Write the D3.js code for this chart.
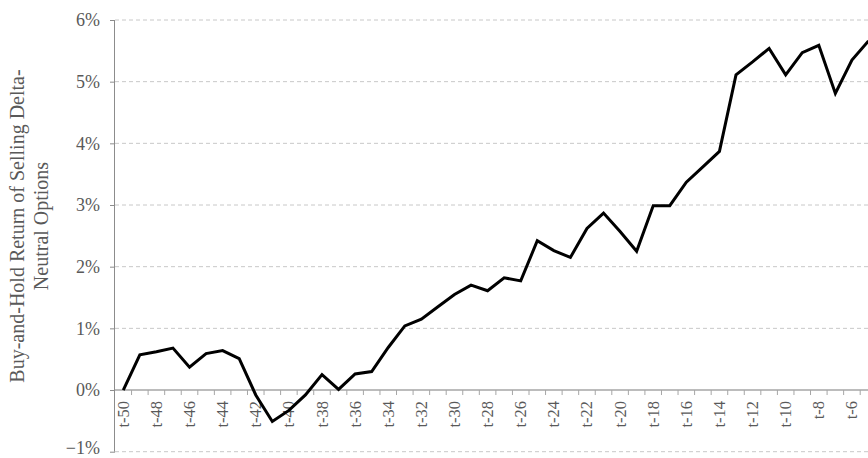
<!DOCTYPE html>
<html>
<head>
<meta charset="utf-8">
<script src="https://cdn.jsdelivr.net/npm/d3@7"></script>
<style>
  html, body { margin: 0; padding: 0; background: #fff; }
  svg { display: block; }
  text { font-family: "Liberation Serif", "DejaVu Serif", serif; fill: #595959; }
</style>
</head>
<body>
<svg id="chart" width="868" height="458"></svg>
<script>
const categories = ["t-50","t-49","t-48","t-47","t-46","t-45","t-44","t-43","t-42","t-41",
  "t-40","t-39","t-38","t-37","t-36","t-35","t-34","t-33","t-32","t-31",
  "t-30","t-29","t-28","t-27","t-26","t-25","t-24","t-23","t-22","t-21",
  "t-20","t-19","t-18","t-17","t-16","t-15","t-14","t-13","t-12","t-11",
  "t-10","t-9","t-8","t-7","t-6","t-5"];
const returns = [0.0000, 0.0057, 0.0062, 0.0068, 0.0037, 0.0059, 0.0064, 0.0051, -0.0008, -0.0051,
  -0.0033, -0.0008, 0.0025, 0.0001, 0.0026, 0.0030, 0.0069, 0.0104, 0.0115, 0.0135,
  0.0155, 0.0170, 0.0161, 0.0182, 0.0177, 0.0242, 0.0226, 0.0215, 0.0262, 0.0287,
  0.0257, 0.0225, 0.0299, 0.0299, 0.0337, 0.0362, 0.0387, 0.0511, 0.0532, 0.0554,
  0.0511, 0.0547, 0.0559, 0.0481, 0.0535, 0.0566];
const yTicks = [-0.01, 0, 0.01, 0.02, 0.03, 0.04, 0.05, 0.06];
const yTitle = ["Buy-and-Hold Return of Selling Delta-", "Neutral Options"];

const svg = d3.select("#chart");
const axisLeftX = 115;
const bandW = 16.56;

const x = d3.scaleBand()
  .domain(categories)
  .range([axisLeftX, axisLeftX + bandW * categories.length])
  .paddingInner(0).paddingOuter(0);

const y = d3.scaleLinear().domain([-0.01, 0.06]).range([451.7, 20]);

// gridlines
svg.append("g").selectAll("line")
  .data(yTicks.filter(d => d !== 0))
  .join("line")
  .attr("x1", axisLeftX).attr("x2", 868)
  .attr("y1", d => y(d)).attr("y2", d => y(d))
  .attr("stroke", "#c8c8c8").attr("stroke-width", 1)
  .attr("stroke-dasharray", "4,3");

// y axis
const yAxis = svg.append("g")
  .attr("transform", `translate(${axisLeftX},0)`)
  .call(d3.axisLeft(y).tickValues(yTicks).tickSize(5).tickPadding(10)
    .tickFormat(d => d3.format(".0f")(d * 100) + "%"));
yAxis.select(".domain").attr("stroke", "#8c8c8c").attr("d", `M-0.5,${y(0.06)}V${y(-0.01)}`);
yAxis.selectAll(".tick line").attr("stroke", "#8c8c8c");
yAxis.selectAll(".tick text")
  .style("font-family", '"Liberation Serif", serif')
  .attr("font-size", 18).attr("fill", "#595959")
  .attr("dy", d => d === -0.01 ? "0.08em" : "0.32em");

// x axis at 0
const xAxis = svg.append("g")
  .attr("transform", `translate(0,${y(0)})`);
xAxis.append("line")
  .attr("x1", axisLeftX).attr("x2", 868)
  .attr("stroke", "#a6a6a6").attr("stroke-width", 1.5);
xAxis.selectAll("line.tk")
  .data(categories)
  .join("line").attr("class", "tk")
  .attr("x1", d => x(d) + x.bandwidth()).attr("x2", d => x(d) + x.bandwidth())
  .attr("y1", 0).attr("y2", 5)
  .attr("stroke", "#a6a6a6").attr("stroke-width", 1);
xAxis.selectAll("text")
  .data(categories.filter((d, i) => i % 2 === 0))
  .join("text")
  .attr("transform", d => `translate(${x(d) + x.bandwidth() / 2 + 5.5},11) rotate(-90)`)
  .attr("text-anchor", "end")
  .attr("font-size", 16.5)
  .attr("fill", "#595959")
  .text(d => d);

// line
const line = d3.line()
  .x((d, i) => x(categories[i]) + x.bandwidth() / 2)
  .y(d => y(d));
svg.append("path")
  .datum(returns)
  .attr("d", line)
  .attr("fill", "none")
  .attr("stroke", "#000")
  .attr("stroke-width", 3)
  .attr("stroke-linejoin", "miter");

// y title
const title = svg.append("text")
  .attr("transform", `translate(24,226) rotate(-90)`)
  .attr("text-anchor", "middle")
  .attr("font-size", 20)
  .attr("fill", "#595959");
title.selectAll("tspan")
  .data(yTitle)
  .join("tspan")
  .attr("x", 0)
  .attr("dy", (d, i) => i === 0 ? 0 : 24)
  .text(d => d);
</script>
</body>
</html>
